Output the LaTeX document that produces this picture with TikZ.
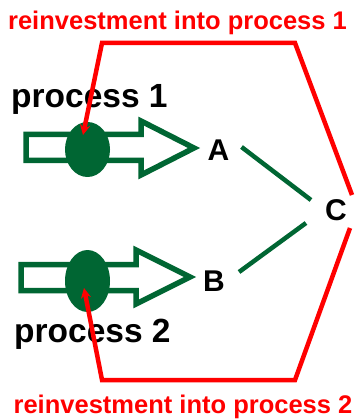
\documentclass[tikz,border=0pt]{standalone}
\usepackage{fontspec}
\setmainfont{Liberation Sans}
\usetikzlibrary{shapes.geometric,arrows.meta,calc}
\definecolor{procgreen}{HTML}{006633}
\tikzset{
	flow/.style={draw=procgreen, line width=5.5pt, fill=white, line join=miter},
	knot/.style={ellipse, fill=procgreen, inner sep=0pt},
	link/.style={draw=procgreen, line width=4.5pt},
	reinvest/.style={draw=red, line width=4.5pt, line join=miter, -{Stealth[length=10pt,width=10pt]}},
	letter/.style={font=\fontsize{30}{30}\selectfont\bfseries, inner sep=0pt},
	procname/.style={font=\fontsize{33.5}{33.5}\selectfont\bfseries, inner sep=0pt, anchor=base west},
	redname/.style={font=\fontsize{25.5}{25.5}\selectfont\bfseries, text=red, inner sep=0pt, anchor=base}
}

\begin{document}
\begin{tikzpicture}[x=1pt, y=-1pt]
			%%%%% START %%%%%
			\useasboundingbox (0, 0) rectangle (360, 419);
			
			% labels
			\node[redname] (inv1) at (177.5, 30) {reinvestment into process 1};
			\node[redname] (inv2) at (183, 413) {reinvestment into process 2};
			\node[procname] (p1) at (11, 108) {process 1};
			\node[procname] (p2) at (14, 342) {process 2};
			
			% process 1
			\draw[flow] (26, 134.5) -- (141, 134.5) -- (141, 121) -- (194, 148) -- (141, 175) -- (141, 160.5) -- (26, 160.5) -- cycle;
			\node[knot, minimum width=45pt, minimum height=55pt] (e1) at (87.5, 149.5) {};
			
			% process 2
			\draw[flow] (21, 264.5) -- (136, 264.5) -- (136, 250) -- (190, 277) -- (136, 304) -- (136, 290.5) -- (21, 290.5) -- cycle;
			\node[knot, minimum width=45pt, minimum height=62pt] (e2) at (87.5, 281) {};
			
			% products
			\node[letter] (A) at (218.5, 150) {A};
			\node[letter] (B) at (214, 281) {B};
			\node[letter] (C) at (336, 210) {C};
			
			\draw[link] ([shift={(12, -3)}]A.east) -- ([shift={(-14, -10)}]C.west);
			\draw[link] ([shift={(14, -9)}]B.east) -- ([shift={(-19, 13)}]C.west);
			
			% reinvestment
			\coordinate (out1) at (352, 195);
			\coordinate (in1) at (83, 135);
			\coordinate (out2) at (350, 228);
			\coordinate (in2) at (84, 288);
			\draw[reinvest] (out1) -- (295, 43) -- (102, 43) -- (in1);
			\draw[reinvest] (out2) -- (295, 380) -- (102, 380) -- (in2);
			
			%%%%% END %%%%%
		\end{tikzpicture}
\end{document}
